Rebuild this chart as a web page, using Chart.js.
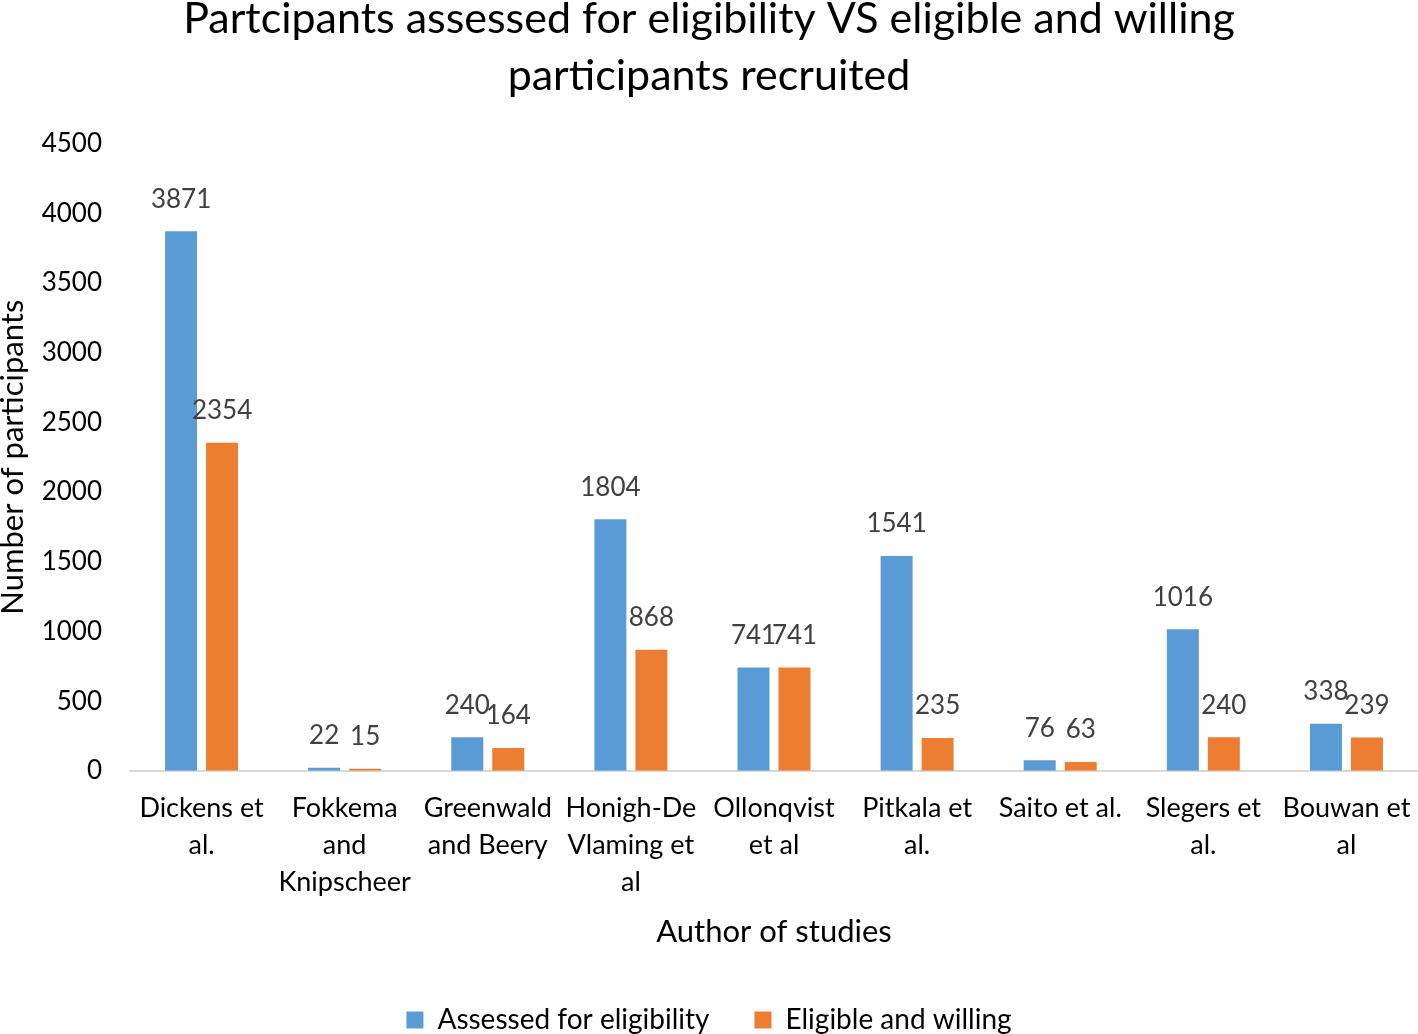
<!DOCTYPE html>
<html><head><meta charset="utf-8">
<script src="https://cdn.jsdelivr.net/npm/chart.js@4"></script>
<style>html,body{margin:0;padding:0;background:#fff}#wrap{width:1418px;height:1034px}</style>
</head><body><div id="wrap"><canvas id="c" width="1418" height="1034"></canvas></div>
<script>
const categories = [["Dickens et","al."],["Fokkema","and","Knipscheer"],["Greenwald","and Beery"],["Honigh-De","Vlaming et","al"],["Ollonqvist","et al"],["Pitkala et","al."],["Saito et al."],["Slegers et","al."],["Bouwan et","al"]];
const assessed = [3871,22,240,1804,741,1541,76,1016,338];
const eligible = [2354,15,164,868,741,235,63,240,239];
const seriesNames = ["Assessed for eligibility","Eligible and willing"];
const yTicksMax = 4500;
const FONT = "Lato";

const labelPlugin = {
  id:'barLabels',
  afterDatasetsDraw(chart){
    const ctx = chart.ctx;
    ctx.save();
    ctx.font = "26px " + FONT;
    ctx.fillStyle = "#404040";
    ctx.textAlign = "center";
    ctx.textBaseline = "bottom";
    chart.data.datasets.forEach((ds,i)=>{
      chart.getDatasetMeta(i).data.forEach((bar,j)=>{
        ctx.fillText(String(ds.data[j]), bar.x, bar.y - 19);
      });
    });
    ctx.restore();
  }
};

new Chart(document.getElementById('c'),{
  type:'bar',
  data:{labels:categories,datasets:[
    {label:seriesNames[0],data:assessed,backgroundColor:'#5B9BD5'},
    {label:seriesNames[1],data:eligible,backgroundColor:'#ED7D31'}
  ]},
  options:{
    responsive:false,animation:false,
    categoryPercentage:0.573,barPercentage:0.78,
    layout:{padding:{left:0,right:0,top:0,bottom:-10}},
    plugins:{
      title:{display:true,text:["Partcipants assessed for eligibility VS eligible and willing","participants recruited"],font:{family:FONT,size:43,weight:'normal',lineHeight:1.32},color:'#000',padding:{top:-9,bottom:39}},
      legend:{position:'bottom',labels:{font:{family:FONT,size:28},color:'#000',boxWidth:17,boxHeight:17,padding:45}},
      tooltip:{enabled:false}
    },
    scales:{
      x:{grid:{display:false,drawTicks:false},border:{color:'#d9d9d9',width:2},
        afterFit(scale){ scale.paddingLeft = 0; scale.paddingRight = 0; },
        ticks:{font:{family:FONT,size:27,lineHeight:1.37},color:'#000',padding:19,maxRotation:0,autoSkip:false},
        title:{display:true,text:"Author of studies",font:{family:FONT,size:31},color:'#000',padding:{top:-6,bottom:10}}},
      y:{min:0,max:yTicksMax,grid:{display:false,drawTicks:false},border:{display:false},
        afterFit(scale){ scale.width = 130; },
        ticks:{stepSize:500,font:{family:FONT,size:26},color:'#000',padding:28,callback:v=>String(v)},
        title:{display:true,text:"Number of participants",font:{family:FONT,size:31,lineHeight:1.0},color:'#000',padding:{top:-3,bottom:0}}}
    }
  },
  plugins:[labelPlugin]
});
</script></body></html>
